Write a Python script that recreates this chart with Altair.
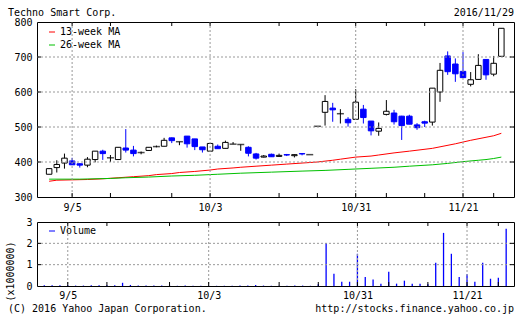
import altair as alt
import pandas as pd

FONT = "DejaVu Sans Mono"
BLUE = "#0000ff"
RED = "#ff0000"
GREEN = "#00c000"
GRID = "#999999"

# ---- data ----
dates = ["8/31", "9/1", "9/2", "9/5", "9/6", "9/7", "9/8", "9/9", "9/12", "9/13",
         "9/14", "9/15", "9/16", "9/20", "9/21", "9/23", "9/26", "9/27", "9/28", "9/29",
         "9/30", "10/3", "10/4", "10/5", "10/6", "10/7", "10/11", "10/12", "10/13", "10/14",
         "10/17", "10/18", "10/19", "10/20", "10/21", "10/24", "10/25", "10/26", "10/27", "10/28",
         "10/31", "11/1", "11/2", "11/4", "11/7", "11/8", "11/9", "11/10", "11/11", "11/14",
         "11/15", "11/16", "11/17", "11/18", "11/21", "11/22", "11/24", "11/25", "11/28", "11/29"]
opens = [365, 384, 397, 403, 395, 391, 407, 431, 412, 407,
         440, 434, 427, 433, 444, 445, 469, 458, 474, 466,
         443, 431, 445, 439, 451, 450, 442, 423, 414, 422,
         416, 421, 418, 424, 421, 502, 542, 554, 538, 522,
         522, 551, 517, 488, 536, 540, 531, 531, 506, 515,
         514, 600, 703, 680, 659, 622, 636, 693, 651, 702]
highs = [382, 405, 424, 412, 396, 414, 431, 435, 420, 442,
         494, 446, 430, 442, 447, 469, 470, 458, 474, 466,
         443, 453, 450, 461, 457, 450, 445, 426, 420, 424,
         424, 423, 422, 425, 421, 502, 591, 569, 551, 528,
         608, 563, 517, 513, 577, 549, 532, 535, 511, 518,
         611, 683, 716, 696, 714, 657, 708, 693, 703, 782]
lows = [365, 370, 381, 392, 384, 385, 399, 406, 400, 407,
        427, 416, 422, 433, 442, 445, 454, 448, 441, 434,
        427, 431, 438, 439, 451, 432, 416, 407, 413, 415,
        415, 417, 413, 419, 421, 502, 504, 515, 510, 501,
        522, 510, 476, 475, 533, 507, 463, 508, 492, 500,
        504, 572, 649, 629, 641, 616, 636, 635, 645, 702]
closes = [381, 393, 411, 392, 391, 408, 431, 424, 412, 442,
          434, 424, 427, 442, 444, 462, 461, 458, 452, 444,
          435, 453, 438, 456, 451, 450, 425, 411, 417, 415,
          419, 420, 421, 423, 421, 502, 573, 549, 538, 512,
          571, 527, 489, 496, 545, 515, 504, 508, 498, 511,
          611, 662, 658, 652, 641, 635, 676, 649, 682, 782]
volumes = [0.03, 0.03, 0.03, 0.03, 0.02, 0.02, 0.03, 0.04, 0.03, 0.03,
           0.15, 0.05, 0.02, 0.02, 0.02, 0.02, 0.02, 0.01, 0.02, 0.01,
           0.01, 0.01, 0.01, 0.01, 0.01, 0.02, 0.02, 0.05, 0.02, 0.01,
           0.01, 0.01, 0.02, 0.02, 0.01, 0.08, 2.01, 0.58, 0.20, 0.20,
           1.51, 0.42, 0.30, 0.11, 0.67, 0.11, 0.25, 0.11, 0.11, 0.08,
           1.09, 2.49, 1.51, 0.42, 0.55, 0.20, 1.09, 0.34, 0.39, 2.68]

ma13_idx = [0, 1, 5, 7, 9, 11, 13, 14, 16, 17, 19, 21, 22, 24, 25, 27, 29, 31, 33, 35,
            37, 38, 40, 42, 43, 45, 47, 50, 53, 55, 58, 59]
ma13_val = [345, 348, 350, 352, 355, 358, 361, 364, 367, 370, 373, 377, 380, 383, 385, 388, 391, 394, 397, 400,
            405, 408, 414, 417, 420, 426, 431, 439, 452, 462, 475, 482]
ma26_idx = [0, 4, 8, 10, 13, 16, 19, 22, 25, 29, 33, 36, 39, 42, 45, 47, 50, 52, 54, 56, 57, 58, 59]
ma26_val = [351, 351, 353, 355, 357, 360, 362, 365, 368, 371, 374, 376, 379, 382, 385, 388, 392, 396, 401, 405, 407, 410, 414]
ma_names = ["13-week MA", "26-week MA"]
vol_name = "Volume"

label_idx = [3, 21, 40, 54]
label_txt = ["9/5", "10/3", "10/31", "11/21"]
week_tick_idx = [3, 8, 16, 21, 30, 35, 40, 44, 49, 54, 58]
price_ticks = [300, 400, 500, 600, 700, 800]
price_grid = [400, 500, 600, 700]
vol_ticks = [0, 1, 2, 3]
vol_grid = [1, 2]

title_txt = "Techno Smart Corp."
date_txt = "2016/11/29"
copy_txt = "(C) 2016 Yahoo Japan Corporation."
url_txt = "http://stocks.finance.yahoo.co.jp"
vol_unit = "(x1000000)"

# ---- layout ----
W, H1, H2 = 477, 175, 64
XDOM = [-0.93, 60.0]

n = len(dates)
df = pd.DataFrame({"i": list(range(n)), "d": dates, "o": opens, "h": highs,
                   "l": lows, "c": closes, "v": volumes})
df["fillc"] = ["white" if c > o else (BLUE if c < o else "black") for o, c in zip(opens, closes)]
df["linec"] = [BLUE if c < o else "black" for o, c in zip(opens, closes)]
df["s"] = vol_name
bodies = df[df["o"] != df["c"]]
dojis = df[df["o"] == df["c"]]

ma_df = pd.DataFrame({"i": ma13_idx + ma26_idx,
                      "val": ma13_val + ma26_val,
                      "s": [ma_names[0]] * len(ma13_idx) + [ma_names[1]] * len(ma26_idx)})

expr = " : ".join(f"datum.value == {i} ? '{t}'" for i, t in zip(label_idx, label_txt)) + " : ''"

def xaxis(pad):
    return alt.Axis(values=label_idx, labelExpr=expr, ticks=False, domain=False, grid=False,
                    labelPadding=pad, labelFlush=False, labelOverlap=False, title=None)

xscale = alt.Scale(domain=XDOM, nice=False, zero=False)
ax_top = xaxis(5)
ax_bot = xaxis(4)

def XT(f="i"):
    return alt.X(f"{f}:Q", scale=xscale, axis=ax_top, title=None)

def XB(f="i"):
    return alt.X(f"{f}:Q", scale=xscale, axis=ax_bot, title=None)

pscale = alt.Scale(domain=[300, 800], nice=False, zero=False)
pax = alt.Axis(values=price_ticks, ticks=False, domain=False, grid=False, labelPadding=5,
               labelFlush=False, labelOverlap=False, title=None)

def YP(f):
    return alt.Y(f"{f}:Q", scale=pscale, axis=pax, title=None)

vscale = alt.Scale(domain=[0, 3], nice=False, zero=True)
vax = alt.Axis(values=vol_ticks, ticks=False, domain=False, grid=False, labelPadding=5,
               labelFlush=False, labelOverlap=False, title=vol_unit, titleX=-27, titleY=49,
               titleAlign="center", titleBaseline="middle", titleFont=FONT, titleFontSize=10,
               titleFontWeight="normal")

def YV(f):
    return alt.Y(f"{f}:Q", scale=vscale, axis=vax, title=vol_unit)

leg_common = dict(title=None, orient="none", legendX=10, symbolType="stroke", symbolSize=36,
                  symbolStrokeWidth=1, labelOffset=3, rowPadding=3, padding=0,
                  labelFont=FONT, labelFontSize=10, labelColor="black")

# ---- top panel ----
ma_lines = alt.Chart(ma_df).mark_line(strokeWidth=1).encode(
    x=XT(), y=YP("val"),
    color=alt.Color("s:N", scale=alt.Scale(domain=ma_names, range=[RED, GREEN]),
                    legend=alt.Legend(legendY=5, **leg_common)))

wicks = alt.Chart(df).mark_rule(strokeWidth=1).encode(
    x=XT(), y=YP("l"), y2="h:Q", color=alt.Color("linec:N", scale=None))

body = alt.Chart(bodies).mark_bar(size=5.5, strokeWidth=1).encode(
    x=XT(), y=YP("o"), y2="c:Q",
    fill=alt.Fill("fillc:N", scale=None), stroke=alt.Stroke("linec:N", scale=None))

doji = alt.Chart(dojis).mark_tick(orient="horizontal", size=7, thickness=1.5, color="black").encode(
    x=XT(), y=YP("c"))

pg_df = pd.DataFrame({"p": price_grid})
lab_df = pd.DataFrame({"i": label_idx})
wk_df = pd.DataFrame({"i": week_tick_idx})

hgrid = alt.Chart(pg_df).mark_rule(color=GRID, strokeDash=[2, 2], strokeWidth=1).encode(
    y=YP("p"), x=alt.value(0), x2=alt.value(W))
vgrid = alt.Chart(lab_df).mark_rule(color=GRID, strokeDash=[2, 2], strokeWidth=1).encode(
    x=XT(), y=alt.value(0), y2=alt.value(H1))
tick_t = alt.Chart(wk_df).mark_rule(color="black").encode(x=XT(), y=alt.value(0), y2=alt.value(4))
tick_b = alt.Chart(wk_df).mark_rule(color="black").encode(x=XT(), y=alt.value(H1), y2=alt.value(H1 - 4))
tick_l = alt.Chart(pg_df).mark_rule(color="black").encode(y=YP("p"), x=alt.value(0), x2=alt.value(4))
tick_r = alt.Chart(pg_df).mark_rule(color="black").encode(y=YP("p"), x=alt.value(W), x2=alt.value(W - 4))

t_title = alt.Chart(pd.DataFrame({"t": [title_txt]})).mark_text(
    align="left", baseline="middle", font=FONT, fontSize=10, color="black").encode(
    x=alt.value(-29), y=alt.value(-9), text="t:N")
t_date = alt.Chart(pd.DataFrame({"t": [date_txt]})).mark_text(
    align="right", baseline="middle", font=FONT, fontSize=10, color="black").encode(
    x=alt.value(W), y=alt.value(-9), text="t:N")

top = alt.layer(ma_lines, wicks, body, doji, hgrid, vgrid, tick_t, tick_b, tick_l, tick_r,
                t_title, t_date).properties(width=W, height=H1)

# ---- volume panel ----
vg_df = pd.DataFrame({"p": vol_grid})
vbars = alt.Chart(df).mark_rule(strokeWidth=1.3).encode(
    x=XB(), y=YV("v"), y2=alt.datum(0),
    color=alt.Color("s:N", scale=alt.Scale(domain=[vol_name], range=[BLUE]),
                    legend=alt.Legend(legendY=4, **leg_common)))
vhgrid = alt.Chart(vg_df).mark_rule(color=GRID, strokeDash=[2, 2], strokeWidth=1).encode(
    y=YV("p"), x=alt.value(0), x2=alt.value(W))
vvgrid = alt.Chart(lab_df).mark_rule(color=GRID, strokeDash=[2, 2], strokeWidth=1).encode(
    x=XB(), y=alt.value(0), y2=alt.value(H2))
vtick_t = alt.Chart(wk_df).mark_rule(color="black").encode(x=XB(), y=alt.value(0), y2=alt.value(4))
vtick_b = alt.Chart(wk_df).mark_rule(color="black").encode(x=XB(), y=alt.value(H2), y2=alt.value(H2 - 4))
vtick_l = alt.Chart(vg_df).mark_rule(color="black").encode(y=YV("p"), x=alt.value(0), x2=alt.value(4))
vtick_r = alt.Chart(vg_df).mark_rule(color="black").encode(y=YV("p"), x=alt.value(W), x2=alt.value(W - 4))

t_copy = alt.Chart(pd.DataFrame({"t": [copy_txt]})).mark_text(
    align="left", baseline="middle", font=FONT, fontSize=10, color="black").encode(
    x=alt.value(-29), y=alt.value(87), text="t:N")
t_url = alt.Chart(pd.DataFrame({"t": [url_txt]})).mark_text(
    align="right", baseline="middle", font=FONT, fontSize=10, color="black").encode(
    x=alt.value(W), y=alt.value(87), text="t:N")

bottom = alt.layer(vbars, vhgrid, vvgrid, vtick_t, vtick_b, vtick_l, vtick_r,
                   t_copy, t_url).properties(width=W, height=H2)

chart = alt.vconcat(top, bottom, spacing=25, bounds="flush").resolve_scale(
    color="independent"
).properties(
    padding={"left": 4, "top": 7, "right": 0, "bottom": 0}
).configure(background="white").configure_view(
    stroke="black", strokeWidth=1
).configure_axis(
    labelFont=FONT, labelFontSize=10, labelColor="black",
    titleFont=FONT, titleFontSize=10, titleColor="black"
)

chart.save("out.html", embed_options={"renderer": "svg", "actions": False})
